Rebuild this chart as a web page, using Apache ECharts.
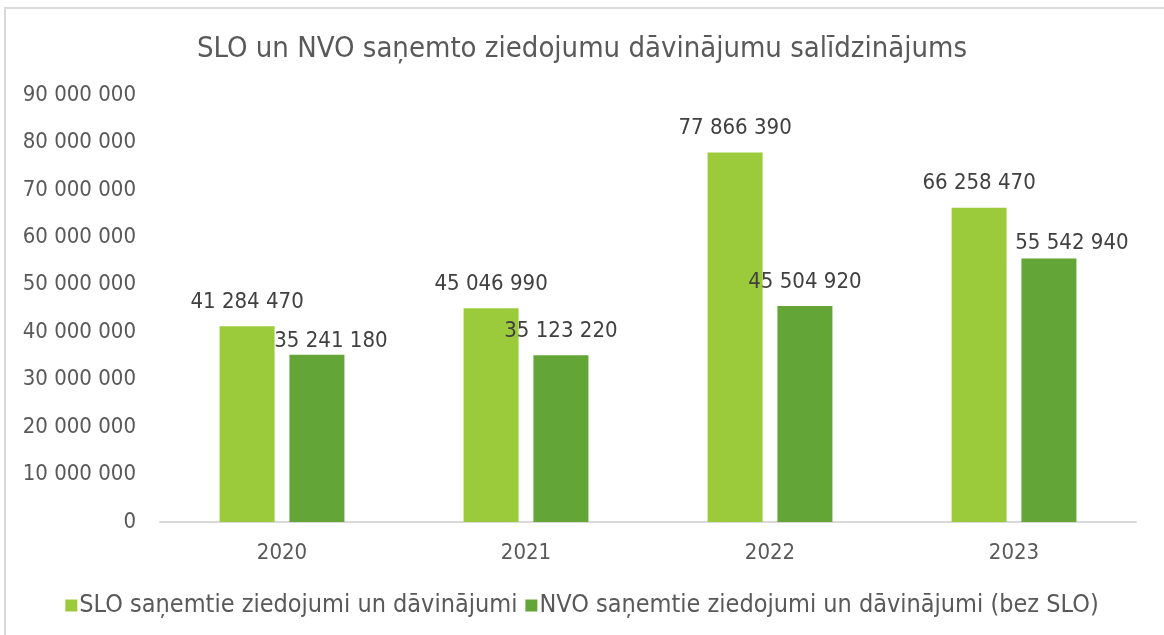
<!DOCTYPE html>
<html>
<head>
<meta charset="utf-8">
<script src="https://cdn.jsdelivr.net/npm/echarts@6/dist/echarts.min.js"></script>
<style>
  html, body { margin: 0; padding: 0; background: #fff; overflow: hidden; width: 1164px; height: 635px; }
  .frame {
    position: absolute;
    left: 4px;
    top: 7px;
    width: 1300px;
    height: 700px;
    border-top: 2px solid #D9D9D9;
    border-left: 2px solid #D9D9D9;
  }
  #chart { position: absolute; left: 0; top: 0; width: 1164px; height: 635px; }
</style>
</head>
<body>
<div class="frame"></div>
<div id="chart"></div>
<script>
const years = ['2020', '2021', '2022', '2023']
const sloValues = [41284470, 45046990, 77866390, 66258470]
const nvoValues = [35241180, 35123220, 45504920, 55542940]
const seriesNames = [
  'SLO saņemtie ziedojumi un dāvinājumi',
  'NVO saņemtie ziedojumi un dāvinājumi (bez SLO)'
]
const titleText = 'SLO un NVO saņemto ziedojumu dāvinājumu salīdzinājums'

// Excel pushed two NVO labels aside where they collided
const nvoLabelShift = { 0: [14, 10], 3: [23, 9] }

const fontFamily = '"DejaVu Sans Condensed", "DejaVu Sans", sans-serif'
const fmt = v => String(v).replace(/\B(?=(\d{3})+(?!\d))/g, ' ')

const chart = echarts.init(document.getElementById('chart'))

chart.setOption({
  animation: false,
  textStyle: { fontFamily: fontFamily },
  title: {
    text: titleText,
    left: 'center',
    top: 30,
    textStyle: { fontSize: 29, fontWeight: 'normal', color: '#595959', fontFamily: fontFamily }
  },
  legend: {
    bottom: 12,
    left: 'center',
    itemWidth: 12,
    itemHeight: 12,
    itemGap: 8,
    icon: 'rect',
    textStyle: { fontSize: 25, color: '#595959', fontFamily: fontFamily, padding: [0, 0, 0, -3] },
    data: seriesNames
  },
  grid: {
    left: 160,
    right: 28,
    top: 95,
    bottom: 113,
    containLabel: false
  },
  xAxis: {
    type: 'category',
    data: years,
    axisLine: { lineStyle: { color: '#D9D9D9', width: 2 } },
    axisTick: { show: false },
    axisLabel: { fontSize: 22, color: '#595959', margin: 20, fontFamily: fontFamily }
  },
  yAxis: {
    type: 'value',
    min: 0,
    max: 90000000,
    interval: 10000000,
    axisLine: { show: false },
    axisTick: { show: false },
    splitLine: { show: false },
    axisLabel: { fontSize: 22, color: '#595959', margin: 24, fontFamily: fontFamily, formatter: fmt }
  },
  series: [
    {
      name: seriesNames[0],
      type: 'bar',
      barWidth: 55,
      barGap: '27%',
      itemStyle: { color: '#9BCB3B' },
      label: {
        show: true,
        position: 'top',
        distance: 13,
        fontSize: 22,
        color: '#404040',
        fontFamily: fontFamily,
        formatter: p => fmt(p.value)
      },
      data: sloValues
    },
    {
      name: seriesNames[1],
      type: 'bar',
      barWidth: 55,
      itemStyle: { color: '#63A537' },
      label: {
        show: true,
        position: 'top',
        distance: 13,
        fontSize: 22,
        color: '#404040',
        fontFamily: fontFamily,
        formatter: p => fmt(p.value)
      },
      data: nvoValues.map((v, i) => nvoLabelShift[i]
        ? { value: v, label: { offset: nvoLabelShift[i] } }
        : v)
    }
  ]
})
</script>
</body>
</html>
